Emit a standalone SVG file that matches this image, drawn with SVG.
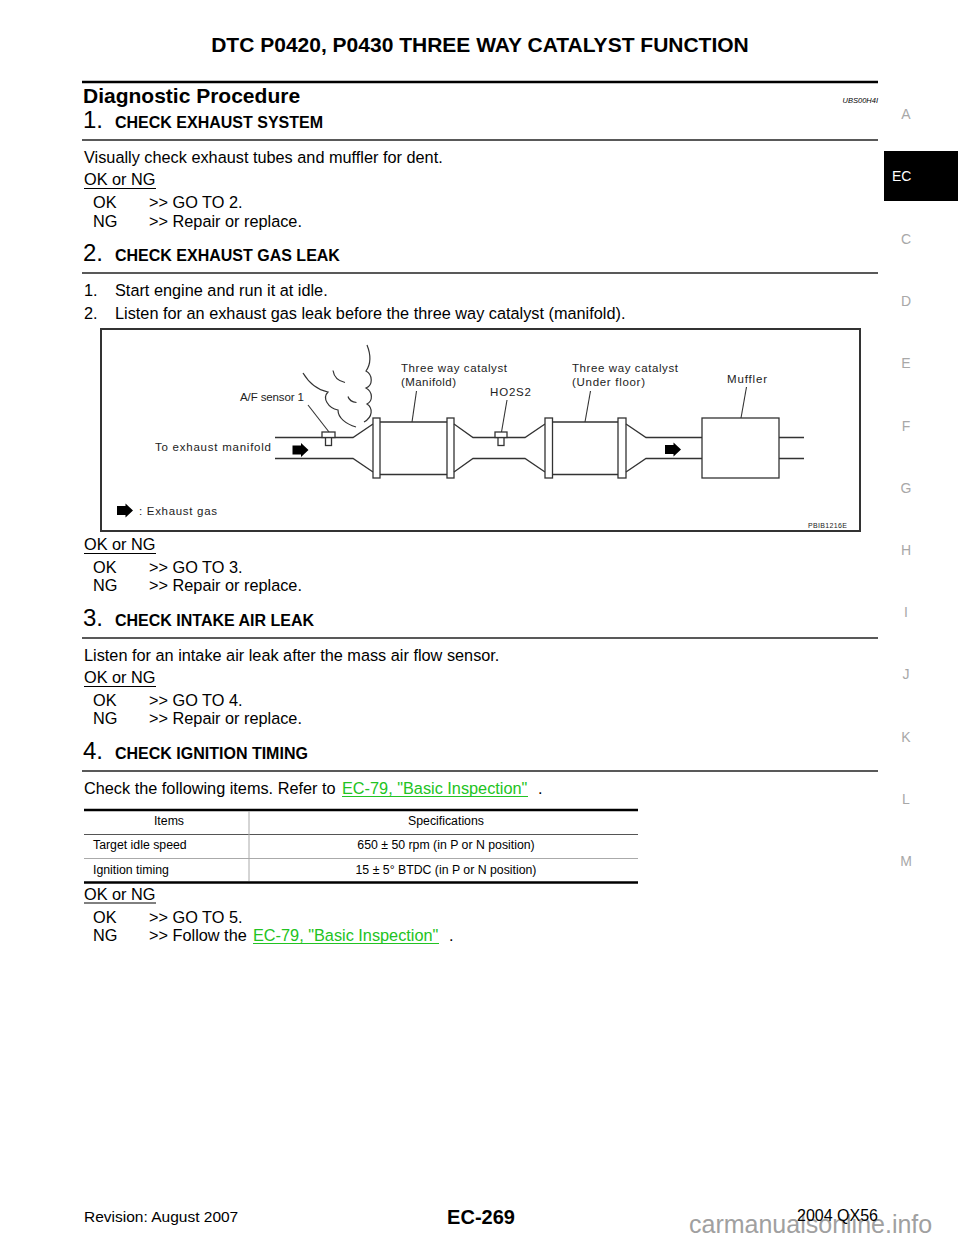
<svg xmlns="http://www.w3.org/2000/svg" xmlns:xlink="http://www.w3.org/1999/xlink" width="960" height="1242" viewBox="0 0 960 1242">
<style>
text{font-family:"Liberation Sans",Arial,Helvetica,sans-serif;fill:#000}
.b{font-size:16.3px}
.h{font-size:16px;font-weight:bold}
.num{font-size:24px}
.tab{font-size:14px;fill:#a8a8a8;text-anchor:middle}
.fig{font-size:11.5px;fill:#222}
.tb{font-size:12.3px}
.tc{font-size:12.3px;text-anchor:middle}
.lnk{fill:#22c322}
.rule{stroke:#222;stroke-width:1.5}
.p{fill:none;stroke:#333;stroke-width:1.3}
.pf{fill:#fff;stroke:#333;stroke-width:1.3}
.ld{fill:none;stroke:#333;stroke-width:1.1}
.sm{fill:none;stroke:#333;stroke-width:1.2}
</style>
<defs>
<path id="arr" d="M0,-4.5 L8.5,-4.5 L8.5,-7 L16,0 L8.5,7 L8.5,4.5 L0,4.5 Z" fill="#000"/>
</defs>
<rect width="960" height="1242" fill="#fff"/>

<g id="header">
<text x="480" y="52" text-anchor="middle" style="font-size:21px;font-weight:bold">DTC P0420, P0430 THREE WAY CATALYST FUNCTION</text>
<line x1="82" y1="82" x2="878" y2="82" stroke="#000" stroke-width="2.5"/>
<text x="83" y="103" style="font-size:21px;font-weight:bold">Diagnostic Procedure</text>
<text x="878" y="103" text-anchor="end" style="font-size:7.5px;font-style:italic">UBS00H4I</text>
</g>

<g id="tabs">
<text class="tab" x="906" y="119">A</text>
<rect x="884" y="151" width="74" height="50" fill="#000"/>
<text x="892" y="181" style="font-size:14px;fill:#fff">EC</text>
<text class="tab" x="906" y="244">C</text>
<text class="tab" x="906" y="306">D</text>
<text class="tab" x="906" y="368">E</text>
<text class="tab" x="906" y="431">F</text>
<text class="tab" x="906" y="493">G</text>
<text class="tab" x="906" y="555">H</text>
<text class="tab" x="906" y="617">I</text>
<text class="tab" x="906" y="679">J</text>
<text class="tab" x="906" y="742">K</text>
<text class="tab" x="906" y="804">L</text>
<text class="tab" x="906" y="866">M</text>
</g>

<g id="step1">
<text class="num" x="83" y="128">1.</text>
<text class="h" x="115" y="128">CHECK EXHAUST SYSTEM</text>
<line class="rule" x1="82" y1="140" x2="878" y2="140"/>
<text class="b" x="84" y="163">Visually check exhaust tubes and muffler for dent.</text>
<text class="b" x="84" y="185">OK or NG</text>
<line x1="84" y1="188.5" x2="156" y2="188.5" stroke="#000" stroke-width="1"/>
<text class="b" x="93" y="208">OK</text>
<text class="b" x="149" y="208">&gt;&gt; GO TO 2.</text>
<text class="b" x="93" y="227">NG</text>
<text class="b" x="149" y="227">&gt;&gt; Repair or replace.</text>
</g>

<g id="step2">
<text class="num" x="83" y="261">2.</text>
<text class="h" x="115" y="261">CHECK EXHAUST GAS LEAK</text>
<line class="rule" x1="82" y1="273" x2="878" y2="273"/>
<text class="b" x="84" y="296">1.</text>
<text class="b" x="115" y="296">Start engine and run it at idle.</text>
<text class="b" x="84" y="319">2.</text>
<text class="b" x="115" y="319">Listen for an exhaust gas leak before the three way catalyst (manifold).</text>
</g>

<g id="figure">
<rect x="101" y="329" width="759" height="202" fill="#fff" stroke="#333" stroke-width="2"/>
<!-- smoke -->
<path class="sm" d="M367,345 C371,355 371,364 366,371 C373,375 373,385 366,388 C373,392 373,401 367,404 C373,408 373,417 364,422"/>
<path class="sm" d="M303,373 C309,383 318,390 328,392 C322,398 328,408 338,410 C338,418 346,424 356,427"/>
<path class="sm" d="M333,370.5 C334,377 338,381 345,382.5"/>
<path class="sm" d="M348,396.5 C349,400 352,402 356.5,402.5"/>
<!-- pipes -->
<path class="p" d="M275,437.5 H353 L373,424 M275,458.5 H353 L373,472"/>
<rect class="pf" x="373" y="418" width="7" height="60"/>
<path class="p" d="M380,422 H447 M380,474.5 H447"/>
<rect class="pf" x="447" y="418" width="7" height="60"/>
<path class="p" d="M454,424 L473,437.5 H525 L545,424 M454,472 L473,458.5 H525 L545,472"/>
<rect class="pf" x="545" y="418" width="7.5" height="60"/>
<path class="p" d="M552.5,422 H618 M552.5,474.5 H618"/>
<rect class="pf" x="618" y="418" width="8" height="60"/>
<path class="p" d="M626,424 L646,437.5 H702 M626,472 L646,458.5 H702"/>
<rect class="pf" x="702" y="418" width="77" height="60"/>
<path class="p" d="M779,437.5 H804 M779,458.5 H804"/>
<!-- sensors -->
<rect class="pf" x="325.5" y="437.5" width="6" height="8" stroke-width="1"/>
<rect class="pf" x="322" y="432" width="13" height="5.5"/>
<rect class="pf" x="498" y="437.5" width="6" height="8" stroke-width="1"/>
<rect class="pf" x="495" y="432" width="12" height="5.5"/>
<!-- arrows -->
<use xlink:href="#arr" x="292.5" y="450"/>
<use xlink:href="#arr" x="665" y="449.5"/>
<use xlink:href="#arr" x="117" y="510.5"/>
<!-- labels -->
<text class="fig" x="240" y="401" textLength="64" lengthAdjust="spacing">A/F sensor 1</text>
<text class="fig" x="401" y="371.5" textLength="106" lengthAdjust="spacing">Three way catalyst</text>
<text class="fig" x="401" y="386" textLength="55" lengthAdjust="spacing">(Manifold)</text>
<text class="fig" x="490" y="396" textLength="41" lengthAdjust="spacing">HO2S2</text>
<text class="fig" x="572" y="371.5" textLength="106" lengthAdjust="spacing">Three way catalyst</text>
<text class="fig" x="572" y="386" textLength="73" lengthAdjust="spacing">(Under floor)</text>
<text class="fig" x="727" y="383" textLength="40" lengthAdjust="spacing">Muffler</text>
<text class="fig" x="155" y="451" textLength="116" lengthAdjust="spacing">To exhaust manifold</text>
<text class="fig" x="139" y="515" textLength="78" lengthAdjust="spacing">: Exhaust gas</text>
<text x="808" y="528" style="font-size:7px;fill:#222" textLength="39" lengthAdjust="spacing">PBIB1216E</text>
</g>

<g id="connectors">
<line class="ld" x1="308" y1="405" x2="329" y2="432"/>
<line class="ld" x1="416.5" y1="391" x2="412" y2="422"/>
<line class="ld" x1="507" y1="400" x2="501.5" y2="432"/>
<line class="ld" x1="590.5" y1="391" x2="585" y2="422"/>
<line class="ld" x1="746.5" y1="387" x2="741" y2="418"/>
</g>

<g id="step2result">
<text class="b" x="84" y="550">OK or NG</text>
<line x1="84" y1="553.5" x2="156" y2="553.5" stroke="#000" stroke-width="1"/>
<text class="b" x="93" y="573">OK</text>
<text class="b" x="149" y="573">&gt;&gt; GO TO 3.</text>
<text class="b" x="93" y="591">NG</text>
<text class="b" x="149" y="591">&gt;&gt; Repair or replace.</text>
</g>

<g id="step3">
<text class="num" x="83" y="626">3.</text>
<text class="h" x="115" y="626">CHECK INTAKE AIR LEAK</text>
<line class="rule" x1="82" y1="638" x2="878" y2="638"/>
<text class="b" x="84" y="661">Listen for an intake air leak after the mass air flow sensor.</text>
<text class="b" x="84" y="683">OK or NG</text>
<line x1="84" y1="686.5" x2="156" y2="686.5" stroke="#000" stroke-width="1"/>
<text class="b" x="93" y="706">OK</text>
<text class="b" x="149" y="706">&gt;&gt; GO TO 4.</text>
<text class="b" x="93" y="724">NG</text>
<text class="b" x="149" y="724">&gt;&gt; Repair or replace.</text>
</g>

<g id="step4">
<text class="num" x="83" y="759">4.</text>
<text class="h" x="115" y="759">CHECK IGNITION TIMING</text>
<line class="rule" x1="82" y1="771" x2="878" y2="771"/>
<text class="b" x="84" y="794">Check the following items. Refer to </text>
<text class="b lnk" x="342" y="794">EC-79, "Basic Inspection"</text>
<line x1="342" y1="796.5" x2="528" y2="796.5" stroke="#22c322" stroke-width="1"/>
<text class="b" x="538" y="794">.</text>
</g>

<g id="table">
<line x1="84" y1="810" x2="638" y2="810" stroke="#000" stroke-width="2.5"/>
<line x1="84" y1="834.5" x2="638" y2="834.5" stroke="#555" stroke-width="1"/>
<line x1="84" y1="858.5" x2="638" y2="858.5" stroke="#aaa" stroke-width="1"/>
<line x1="84" y1="882.5" x2="638" y2="882.5" stroke="#000" stroke-width="2.5"/>
<line x1="249" y1="811" x2="249" y2="881" stroke="#aaa" stroke-width="1"/>
<text class="tc" x="169" y="825">Items</text>
<text class="tc" x="446" y="825">Specifications</text>
<text class="tb" x="93" y="849">Target idle speed</text>
<text class="tc" x="446" y="849">650 ± 50 rpm (in P or N position)</text>
<text class="tb" x="93" y="873.5">Ignition timing</text>
<text class="tc" x="446" y="873.5">15 ± 5° BTDC (in P or N position)</text>
</g>

<g id="step4result">
<text class="b" x="84" y="900">OK or NG</text>
<line x1="84" y1="903" x2="156" y2="903" stroke="#000" stroke-width="1"/>
<text class="b" x="93" y="923">OK</text>
<text class="b" x="149" y="923">&gt;&gt; GO TO 5.</text>
<text class="b" x="93" y="941">NG</text>
<text class="b" x="149" y="941">&gt;&gt; Follow the </text>
<text class="b lnk" x="253" y="941">EC-79, "Basic Inspection"</text>
<line x1="253" y1="943.5" x2="439" y2="943.5" stroke="#22c322" stroke-width="1"/>
<text class="b" x="449" y="941">.</text>
</g>

<g id="footer">
<text x="689" y="1233" style="font-size:25px;fill:#a0a0a0">carmanualsonline.info</text>
<text x="84" y="1222" style="font-size:15.5px">Revision: August 2007</text>
<text x="481" y="1224" text-anchor="middle" style="font-size:20px;font-weight:bold">EC-269</text>
<text x="878" y="1221" text-anchor="end" style="font-size:16px">2004 QX56</text>
</g>
</svg>
